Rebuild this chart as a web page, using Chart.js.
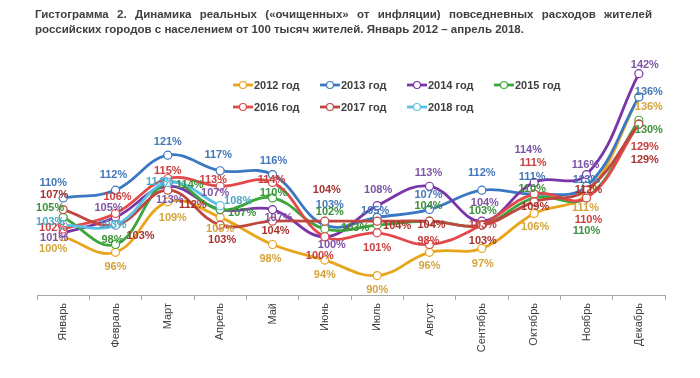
<!DOCTYPE html>
<html><head><meta charset="utf-8">
<script src="https://cdn.jsdelivr.net/npm/chart.js@4/dist/chart.umd.min.js"></script>
<style>
html,body{margin:0;padding:0;background:#fff;}
#wrap{position:relative;width:700px;height:378px;overflow:hidden;}
canvas{position:absolute;left:0;top:0;}
.t{position:absolute;left:35px;width:617px;font:bold 11.5px/15px "Liberation Sans",Arial,sans-serif;color:#404040;white-space:nowrap;}
#t1{top:7px;text-align:justify;text-align-last:justify;white-space:normal;}
#t2{top:22px;text-align:left;}
</style></head><body>
<div id="wrap">
<canvas id="c" width="700" height="378"></canvas>
<div class="t" id="t1">Гистограмма 2. Динамика реальных («очищенных» от инфляции) повседневных расходов жителей</div>
<div class="t" id="t2">российских городов с населением от 100 тысяч жителей. Январь 2012 – апрель 2018.</div>
</div>
<script>
// ---- data ----
const months = ['Январь','Февраль','Март','Апрель','Май','Июнь','Июль','Август','Сентябрь','Октябрь','Ноябрь','Декабрь'];
const seriesNames = ['2012 год','2013 год','2014 год','2015 год','2016 год','2017 год','2018 год'];
const y2012 = [100, 96, 109, 105, 98, 94, 90, 96, 97, 106, 111, 136];
const y2013 = [110, 112, 121, 117, 116, 103, 105, 107, 112, 111, 113, 136];
const y2014 = [101, 105, 113, 107, 107, 100, 108, 113, 104, 114, 116, 142];
const y2015 = [105, 98, 114, 107, 110, 102, 103, 104, 103, 110, 110, 130];
const y2016 = [102, 106, 115, 113, 114, 100, 101, 98, 103, 111, 110, 129];
const y2017 = [107, 103, 112, 103, 104, 104, 104, 104, 103, 109, 112, 129];
const y2018 = [103, 103, 114, 108];
const seriesValues = [y2012, y2013, y2014, y2015, y2016, y2017, y2018];

// ---- styles ----
const lineColors  = ['#E8A51C','#3B78C3','#7A35A8','#3DA63A','#E2494B','#BF4740','#5BC0E6'];
const labelColors = ['#D4A43A','#4477B8','#7D55A5','#3A923A','#C8413F','#A8332E','#49A9C9'];
// label placement (dx, dy in px relative to the point)
const labelOffsets = [
  [[-10,12],[0,15],[5,16],[0,12],[-2,14],[0,15],[0,14],[0,14],[1,16],[1,14],[-1,14],[10,10]],
  [[-10,-15],[-2,-15],[0,-13],[-2,-16],[1,-14],[5,-20],[-2,-6],[-1,-15],[0,-17],[-2,-17],[0,-6],[10,-5]],
  [[-9,5],[-7,-9],[2,14],[-5,-17],[6,8],[7,8],[1,-16],[-1,-13],[3,-18],[-6,-32],[-1,-10],[6,-9]],
  [[-13,-9],[-3,-5],[22,3],[22,3],[1,-5],[5,-17],[-22,3],[-1,-15],[1,-14],[-2,-9],[0,33],[10,10]],
  [[-10,-1],[2,-16],[0,-8],[-7,-6],[-1,-2],[-5,19],[0,15],[-1,-4],[1,0],[-1,-31],[2,22],[6,23]],
  [[-9,-15],[25,11],[25,15],[2,15],[3,10],[2,-31],[20,5],[2,4],[1,16],[1,5],[2,0],[6,36]],
  [[-13,-3],[-3,0],[-8,0],[18,-5]]
];
const FONT = '"Liberation Sans", Arial, sans-serif';

const datasets = seriesNames.map((name, i) => ({
  label: name,
  data: seriesValues[i],
  borderColor: lineColors[i],
  backgroundColor: lineColors[i],
  borderWidth: 2.8,
  tension: 0.4,
  pointRadius: 4,
  pointBackgroundColor: '#ffffff',
  pointBorderColor: lineColors[i],
  pointBorderWidth: 1.2,
  order: seriesNames.length - i,
  fill: false
}));

const pctLabels = {
  id: 'pctLabels',
  afterDatasetsDraw(chart) {
    const ctx = chart.ctx;
    ctx.save();
    ctx.font = 'bold 11px ' + FONT;
    ctx.textAlign = 'center';
    ctx.textBaseline = 'middle';
    chart.data.datasets.forEach((ds, i) => {
      const meta = chart.getDatasetMeta(i);
      meta.data.forEach((pt, j) => {
        const off = labelOffsets[i][j] || [0, -12];
        ctx.fillStyle = labelColors[i];
        ctx.fillText(ds.data[j] + '%', pt.x + off[0], pt.y + off[1]);
      });
    });
    ctx.restore();
  }
};

const innerLegend = {
  id: 'innerLegend',
  afterDraw(chart) {
    const ctx = chart.ctx;
    const cols = [233, 320, 407, 494];
    const rows = [85, 107];
    ctx.save();
    ctx.font = 'bold 11px ' + FONT;
    ctx.textAlign = 'left';
    ctx.textBaseline = 'middle';
    chart.data.datasets.forEach((ds, i) => {
      const x0 = cols[i % 4], y = rows[Math.floor(i / 4)];
      ctx.strokeStyle = ds.borderColor;
      ctx.lineWidth = 2.8;
      ctx.beginPath(); ctx.moveTo(x0, y); ctx.lineTo(x0 + 20, y); ctx.stroke();
      ctx.beginPath(); ctx.arc(x0 + 10, y, 3.5, 0, Math.PI * 2);
      ctx.fillStyle = '#fff'; ctx.fill();
      ctx.lineWidth = 1.2; ctx.stroke();
      ctx.fillStyle = '#404040';
      ctx.fillText(ds.label, x0 + 21, y + 0.5);
    });
    ctx.restore();
  }
};

new Chart(document.getElementById('c'), {
  type: 'line',
  data: { labels: months, datasets: datasets },
  options: {
    responsive: false,
    animation: false,
    layout: { padding: { left: 37, right: 35, top: 62, bottom: 23 } },
    plugins: { legend: { display: false }, tooltip: { enabled: false }, title: { display: false } },
    scales: {
      x: {
        offset: true,
        grid: { display: true, drawOnChartArea: false, drawTicks: true, tickLength: 5, offset: true, color: '#A6A6A6' },
        border: { display: true, color: '#A6A6A6', width: 1 },
        ticks: { autoSkip: false, minRotation: 90, maxRotation: 90, padding: 3, color: '#404040', font: { family: FONT, size: 11 } },
        afterFit: (s) => { s.height = 60; }
      },
      y: { display: false, min: 85, max: 145 }
    }
  },
  plugins: [pctLabels, innerLegend]
});
</script>
</body></html>
